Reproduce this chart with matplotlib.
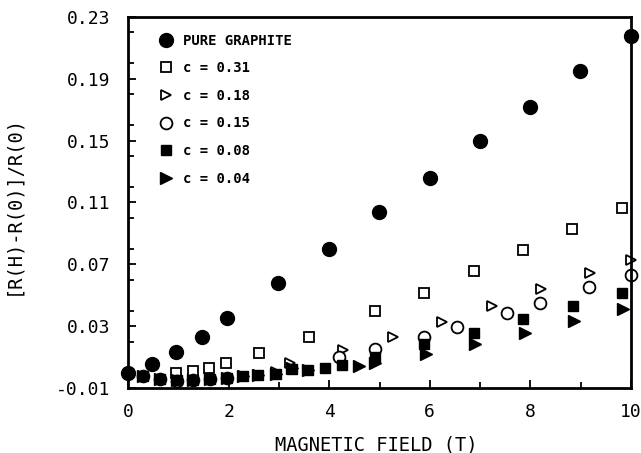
import numpy as np
import matplotlib
matplotlib.use("Agg")
import matplotlib.pyplot as plt
from matplotlib.ticker import MultipleLocator

plt.rcParams['font.family'] = ['DejaVu Sans Mono']

# pure graphite (filled circles)
field_pure = [0.0, 0.48, 0.95, 1.47, 1.97, 2.98, 4.0, 4.99, 6.0, 7.0, 8.0, 8.99, 10.0]
mr_pure = [0.0, 0.0055, 0.0133, 0.023, 0.035, 0.058, 0.080, 0.104, 0.126, 0.150, 0.172, 0.195, 0.218]

# c = 0.31 (open squares)
field_031 = [0.95, 1.29, 1.61, 1.95, 2.6, 3.6, 4.91, 5.88, 6.88, 7.85, 8.83, 9.82]
mr_031 = [-0.0003, 0.001, 0.0029, 0.0062, 0.0126, 0.023, 0.0398, 0.0514, 0.0657, 0.0793, 0.0928, 0.1064]

# c = 0.18 (open triangles)
field_018 = [2.29, 2.58, 2.94, 3.22, 4.27, 5.27, 6.24, 7.24, 8.21, 9.18, 10.0]
mr_018 = [-0.0022, -0.0014, 0.0005, 0.0062, 0.0146, 0.023, 0.0327, 0.043, 0.054, 0.0644, 0.0728]

# c = 0.15 (open circles)
field_015 = [0.3, 0.64, 0.97, 1.29, 1.63, 1.97, 4.19, 4.91, 5.88, 6.54, 7.53, 8.19, 9.16, 10.0]
mr_015 = [-0.0022, -0.0042, -0.0052, -0.0048, -0.0042, -0.0035, 0.010, 0.0152, 0.023, 0.0295, 0.0385, 0.045, 0.0553, 0.0631]

# c = 0.08 (filled squares)
field_008 = [0.3, 0.64, 0.97, 1.29, 1.63, 1.97, 2.29, 2.58, 2.94, 3.26, 3.58, 3.92, 4.25, 4.91, 5.88, 6.88, 7.85, 8.85, 9.82]
mr_008 = [-0.0022, -0.0042, -0.0048, -0.0048, -0.0042, -0.0035, -0.0022, -0.0016, -0.001, 0.002, 0.0016, 0.003, 0.0049, 0.010, 0.0185, 0.0256, 0.0346, 0.043, 0.0514]

# c = 0.04 (filled triangles)
field_004 = [0.3, 0.64, 0.97, 1.29, 1.63, 1.97, 2.29, 2.58, 2.94, 3.26, 3.58, 4.59, 4.91, 5.92, 6.9, 7.89, 8.87, 9.84]
mr_004 = [-0.0022, -0.0042, -0.0048, -0.0048, -0.0042, -0.0035, -0.0022, -0.0016, -0.001, 0.003, 0.0016, 0.0042, 0.0062, 0.012, 0.0185, 0.0256, 0.0333, 0.0411]

labels = ['PURE GRAPHITE', 'c = 0.31', 'c = 0.18', 'c = 0.15', 'c = 0.08', 'c = 0.04']
ytick_labels = ['-0.01', '0.03', '0.07', '0.11', '0.15', '0.19', '0.23']

fig = plt.figure(figsize=(6.41, 4.53), dpi=100)
ax = fig.add_axes([0.1997, 0.1435, 0.7847, 0.819])

ax.plot(field_pure, mr_pure, 'o', color='black', ms=10, label=labels[0], clip_on=False, zorder=5)
ax.plot(field_031, mr_031, 's', mfc='white', mec='black', mew=1.3, ms=6.5, label=labels[1], clip_on=False)
ax.plot(field_018, mr_018, '>', mfc='white', mec='black', mew=1.3, ms=7, label=labels[2], clip_on=False)
ax.plot(field_015, mr_015, 'o', mfc='white', mec='black', mew=1.3, ms=8.5, label=labels[3], clip_on=False)
ax.plot(field_008, mr_008, 's', color='black', ms=7.5, label=labels[4], clip_on=False)
ax.plot(field_004, mr_004, '>', color='black', ms=8, label=labels[5], clip_on=False)

ax.set_xlim(0, 10)
ax.set_ylim(-0.01, 0.23)
ax.set_xticks(np.arange(0, 11, 2))
ax.set_yticks(np.arange(-0.01, 0.2301, 0.04))
ax.set_yticklabels(ytick_labels)
ax.xaxis.set_minor_locator(MultipleLocator(1))
ax.yaxis.set_minor_locator(MultipleLocator(0.02))
ax.tick_params(which='both', direction='in', top=False, right=False, labelsize=13, width=1.3)
ax.tick_params(which='major', length=6)
ax.tick_params(which='minor', length=4)
ax.tick_params(axis='x', pad=11)
ax.tick_params(axis='y', pad=13)
for s in ax.spines.values():
    s.set_linewidth(2)

ax.set_xlabel('MAGNETIC FIELD (T)', fontsize=13.5)
ax.set_ylabel('[R(H)-R(0)]/R(0)', fontsize=13.5)
ax.xaxis.set_label_coords(0.493, -0.128)
ax.yaxis.set_label_coords(-0.21, 0.493)

ax.legend(loc='upper left', bbox_to_anchor=(0.04, 0.985), frameon=False,
          prop={'size': 10, 'weight': 'bold'}, labelspacing=0.98,
          handletextpad=0.7, handlelength=1.0, borderaxespad=0.4)

fig.savefig('out.png', dpi=100)
